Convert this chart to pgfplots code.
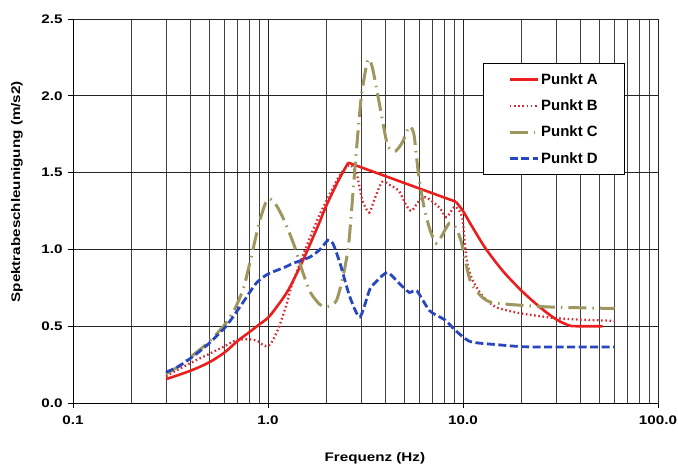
\documentclass[border=0pt]{standalone}
\usepackage{pgfplots}
\pgfplotsset{compat=1.18}
\usepackage{fontspec}
\setmainfont{Liberation Sans}
\newfontfamily\lblfont{Liberation Sans}[FakeStretch=1.22]
\newfontfamily\legfont{Liberation Sans}
\definecolor{cA}{RGB}{235,30,30}
\definecolor{cB}{RGB}{215,40,50}
\definecolor{cC}{RGB}{158,152,96}
\definecolor{cD}{RGB}{40,70,190}
\begin{document}
\begin{tikzpicture}
\path[use as bounding box] (-73bp,-64bp) rectangle (605bp,403bp);
\begin{axis}[
  scale only axis, width=585bp, height=384bp,
  xmode=log, xmin=0.1, xmax=100, ymin=0, ymax=2.5,
  axis x line*=bottom, axis y line*=left,
  axis line style={black, line width=0.9bp},
  xtick={0.1,1,10,100}, xticklabels={0.1,1.0,10.0,100.0},
  ytick={0,0.5,1,1.5,2,2.5}, yticklabels={0.0,0.5,1.0,1.5,2.0,2.5},
  tick align=outside, major tick length=5bp, minor tick length=0pt,
  tick style={black, line width=0.9bp},
  grid=both,
  major grid style={black!85, line width=0.8bp},
  minor grid style={black!75, line width=0.7bp},
  tick label style={font=\lblfont\bfseries\fontsize{12.5}{12.5}\selectfont},
  xticklabel style={yshift=-4bp},
  yticklabel style={xshift=-2bp},
  xlabel={Frequenz (Hz)},
  ylabel={Spektrabeschleunigung (m/s2)},
  label style={font=\lblfont\bfseries\fontsize{12.5}{13}\selectfont},
  xlabel style={at={(axis description cs:0.516,-0.1536)}, anchor=base},
  ylabel style={at={(axis description cs:-0.0957,0.55)}, anchor=center},
  legend cell align=left,
  legend style={at={(0.9436,0.885)}, anchor=north east, draw=black, line width=0.7bp,
    fill=white, font=\legfont\bfseries\fontsize{15}{15}\selectfont,
    inner xsep=25bp, inner ysep=8bp, row sep=10bp},
  legend image code/.code={\draw[#1] (0bp,0bp) -- (28bp,0bp);},
]
% Punkt A (rising part)
\addplot[cA, line width=2.6bp, smooth, tension=0.5, forget plot] coordinates {
(0.3,0.155) (0.4,0.21) (0.5,0.265) (0.6,0.33) (0.7,0.405) (0.8,0.46) (0.9,0.51) (1.0,0.555)
(1.1,0.62) (1.27,0.735) (1.5,0.92) (1.8,1.15) (2.0,1.29) (2.3,1.45) (2.58,1.565)};
% Punkt A (falling part)
\addplot[cA, line width=2.6bp, smooth, tension=0.5, forget plot] coordinates {
(9.2,1.31) (10,1.25) (11,1.16) (13,1.01) (16,0.86) (20,0.73) (25,0.62) (30,0.545) (35,0.505) (38,0.50) (52,0.50)};
% Punkt A (straight part)
\addplot[cA, line width=2.6bp, line join=round] coordinates {(2.58,1.565) (9.2,1.31)};
\addlegendentry{Punkt A}
% Punkt B
\addplot[cB, line width=2.3bp, dash pattern=on 1.6bp off 2.6bp, smooth, tension=0.4] coordinates {
(0.3,0.175) (0.4,0.26) (0.5,0.32) (0.6,0.37) (0.69,0.41) (0.8,0.415) (0.88,0.405) (0.95,0.375)
(1.0,0.37) (1.05,0.40) (1.1,0.45) (1.15,0.51) (1.25,0.65) (1.32,0.76) (1.52,0.97) (1.8,1.20)
(2.0,1.32) (2.3,1.47) (2.5,1.53) (2.65,1.55) (2.85,1.49) (3.05,1.32) (3.3,1.24) (3.55,1.34)
(3.85,1.44) (4.2,1.42) (4.7,1.38) (5.1,1.29) (5.45,1.25) (5.9,1.31) (6.4,1.34) (7.0,1.31)
(7.6,1.27) (8.2,1.21) (8.7,1.25) (9.1,1.28) (9.6,1.25) (9.95,1.20) (10.15,1.08) (10.35,0.97)
(10.6,0.89) (11.2,0.80) (12.2,0.72) (13.2,0.67) (15,0.62) (19.5,0.585) (25,0.565) (31,0.55)
(45,0.54) (60,0.535)};
\addlegendentry{Punkt B}
% Punkt C
\addplot[cC, line width=3bp, dash pattern=on 18bp off 6bp on 1.5bp off 6bp, smooth, tension=0.4] coordinates {
(0.3,0.19) (0.35,0.24) (0.43,0.33) (0.5,0.40) (0.6,0.51) (0.68,0.62) (0.75,0.75) (0.82,0.95)
(0.9,1.17) (0.97,1.30) (1.02,1.33) (1.1,1.29) (1.2,1.20) (1.35,1.04) (1.5,0.86) (1.65,0.72)
(1.85,0.64) (2.05,0.63) (2.25,0.67) (2.45,0.85) (2.6,1.05) (2.8,1.55) (3.0,1.98) (3.2,2.2)
(3.3,2.24) (3.45,2.17) (3.75,1.93) (4.1,1.68) (4.5,1.64) (4.9,1.70) (5.3,1.80) (5.6,1.75)
(5.9,1.50) (6.3,1.28) (6.8,1.12) (7.3,1.04) (7.8,1.09) (8.5,1.17) (9.2,1.14) (9.8,1.05)
(10.3,0.92) (11,0.78) (12.5,0.69) (14,0.655) (18,0.64) (28,0.625) (60,0.615)};
\addlegendentry{Punkt C}
% Punkt D
\addplot[cD, line width=2.8bp, dash pattern=on 8bp off 3.5bp, smooth, tension=0.4] coordinates {
(0.3,0.20) (0.35,0.24) (0.43,0.32) (0.5,0.39) (0.61,0.50) (0.74,0.65) (0.87,0.78) (1.0,0.84)
(1.2,0.88) (1.35,0.91) (1.64,0.95) (1.85,1.0) (2.03,1.06) (2.15,1.04) (2.34,0.91) (2.63,0.69)
(2.96,0.56) (3.33,0.74) (3.66,0.80) (4.1,0.85) (4.7,0.78) (5.3,0.72) (5.8,0.73) (6.75,0.60)
(8.1,0.54) (9.1,0.475) (10.9,0.40) (14.9,0.38) (22,0.365) (60,0.365)};
\addlegendentry{Punkt D}
\end{axis}
\end{tikzpicture}
\end{document}
